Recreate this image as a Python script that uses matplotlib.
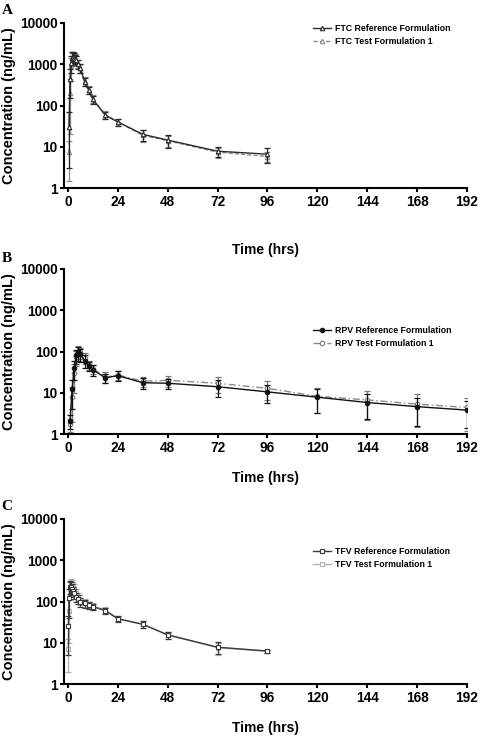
import numpy as np
import matplotlib
matplotlib.use("Agg")
import matplotlib.pyplot as plt
from matplotlib.ticker import FixedLocator, FixedFormatter, NullLocator

# ---------------- data ----------------
ftc_t = [0.5, 1, 1.5, 2, 2.5, 3, 3.5, 4, 5, 6, 8, 10, 12, 18, 24, 36, 48, 72, 96]
ftc_ref = [30, 450, 1100, 1450, 1500, 1450, 1350, 1250, 1000, 800, 380, 235, 140, 58, 40, 20, 14.5, 7.8, 6.6]
ftc_ref_sd = [40, 300, 500, 500, 450, 400, 350, 300, 250, 200, 90, 50, 30, 12, 8, 6, 5, 2.2, 2.5]
ftc_test = [7.5, 200, 900, 1400, 1550, 1500, 1400, 1300, 1050, 820, 390, 240, 145, 60, 40, 19, 14, 7.4, 5.8]
ftc_test_sd = [6, 250, 500, 500, 450, 400, 350, 300, 250, 200, 90, 50, 30, 12, 8, 6, 4, 2, 1.6]

rpv_t = [1, 2, 3, 4, 5, 6, 8, 10, 12, 18, 24, 36, 48, 72, 96, 120, 144, 168, 192]
rpv_ref = [2.1, 12, 40, 80, 95, 85, 60, 45, 36, 23, 26, 17.5, 17, 14, 10.5, 7.8, 5.8, 4.6, 3.8]
rpv_ref_sd = [0.8, 8, 20, 30, 35, 30, 20, 12, 10, 6, 7, 5, 5, 6, 5, 4.5, 3.5, 3, 2.4]
rpv_test = [1.7, 8, 30, 75, 100, 95, 70, 48, 38, 24, 27, 19, 20, 17, 12.8, 8.2, 6.7, 5.3, 4.4]
rpv_test_sd = [0.6, 6, 20, 30, 35, 30, 20, 12, 10, 7, 7, 5, 6, 7, 6, 5, 4.5, 3.8, 3.2]

tfv_t = [0.25, 0.5, 1, 1.5, 2, 2.5, 3, 4, 5, 6, 8, 10, 12, 18, 24, 36, 48, 72, 96]
tfv_ref = [25, 120, 230, 220, 200, 180, 160, 130, 115, 100, 90, 82, 75, 60, 38, 28, 15.5, 7.8, 6.3]
tfv_ref_sd = [20, 80, 80, 70, 60, 50, 45, 35, 30, 25, 20, 15, 12, 10, 6, 5, 3, 2.5, 0.5]
tfv_test = [7, 60, 200, 270, 260, 230, 200, 160, 130, 110, 95, 85, 78, 62, 39, 28, 15.5, 7.6, 6.2]
tfv_test_sd = [5, 50, 90, 90, 80, 70, 60, 45, 35, 30, 20, 15, 12, 10, 6, 5, 3, 2.5, 0.5]

x_ticks = [0, 24, 48, 72, 96, 120, 144, 168, 192]
y_ticks = [1, 10, 100, 1000, 10000]
y_ticklabels = ["1", "10", "100", "1000", "10000"]

# ---------------- figure ----------------
W, H = 483, 752
fig = plt.figure(figsize=(W / 100, H / 100), dpi=100)
sans = ["Liberation Sans", "DejaVu Sans"]
serif = ["Liberation Serif", "DejaVu Serif"]

panels = [
    dict(top=23, bot=188, xlab=250, letter="A", ly=10, leg_top=20,
         t=ftc_t, ref=ftc_ref, rsd=ftc_ref_sd, test=ftc_test, tsd=ftc_test_sd,
         rlab="FTC Reference Formulation", tlab="FTC Test Formulation 1",
         rstyle=dict(color="#2a2a2a", ls="-", marker="^", mfc="white", mec="#2a2a2a"),
         tstyle=dict(color="#8a8a8a", ls=(0, (3, 1.5)), marker="^", mfc="white", mec="#8a8a8a")),
    dict(top=269, bot=434, xlab=478, letter="B", ly=259, leg_top=322,
         t=rpv_t, ref=rpv_ref, rsd=rpv_ref_sd, test=rpv_test, tsd=rpv_test_sd,
         rlab="RPV Reference Formulation", tlab="RPV Test Formulation 1",
         rstyle=dict(color="#111111", ls="-", marker="o", mfc="#111111", mec="#111111"),
         tstyle=dict(color="#8a8a8a", ls=(0, (5, 2, 1, 2)), marker="o", mfc="white", mec="#7a7a7a")),
    dict(top=519, bot=684, xlab=728, letter="C", ly=507, leg_top=543,
         t=tfv_t, ref=tfv_ref, rsd=tfv_ref_sd, test=tfv_test, tsd=tfv_test_sd,
         rlab="TFV Reference Formulation", tlab="TFV Test Formulation 1",
         rstyle=dict(color="#3a3a3a", ls="-", marker="s", mfc="white", mec="#3a3a3a"),
         tstyle=dict(color="#b0b0b0", ls="-", marker="s", mfc="white", mec="#b0b0b0")),
]

left_px, right_px = 64, 467
for p in panels:
    ax = fig.add_axes([left_px / W, 1 - p["bot"] / H, (right_px - left_px) / W, (p["bot"] - p["top"]) / H])
    for vals, sd, st, lab, z in [(p["test"], p["tsd"], p["tstyle"], p["tlab"], 2),
                                 (p["ref"], p["rsd"], p["rstyle"], p["rlab"], 3)]:
        v = np.array(vals, float)
        s = np.array(sd, float)
        lo = np.minimum(s, v * 0.9)
        ax.errorbar(p["t"], v, yerr=[lo, s], color=st["color"], ecolor=st["mec"],
                    elinewidth=0.9, capsize=2.5, capthick=0.9, ls="none", zorder=z)
        ax.plot(p["t"], v, color=st["color"], ls=st["ls"], lw=1.0, marker=st["marker"],
                ms=3.2, mfc=st["mfc"], mec=st["mec"], mew=0.8, label=lab, zorder=z + 1)
    ax.set_yscale("log")
    ax.set_ylim(1, 10000)
    ax.set_xlim(-1.9, 192)
    ax.yaxis.set_major_locator(FixedLocator(y_ticks))
    ax.yaxis.set_major_formatter(FixedFormatter(y_ticklabels))
    ax.yaxis.set_minor_locator(NullLocator())
    ax.set_xticks(x_ticks)
    ax.set_xticklabels([str(x) for x in x_ticks])
    for side in ["top", "right"]:
        ax.spines[side].set_visible(False)
    for side in ["left", "bottom"]:
        ax.spines[side].set_linewidth(1.5)
    ax.tick_params(axis="both", which="major", direction="out", length=3.2, width=1.5,
                   labelsize=9.8, pad=1.5)
    for lbl in ax.get_xticklabels() + ax.get_yticklabels():
        lbl.set_fontfamily(sans)
        lbl.set_fontweight("bold")
    h, l = ax.get_legend_handles_labels()
    order = [l.index(p["rlab"]), l.index(p["tlab"])]
    ax.legend([h[i] for i in order], [l[i] for i in order],
              loc="upper left", bbox_to_anchor=(309 / W, 1 - p["leg_top"] / H),
              bbox_transform=fig.transFigure, frameon=False, borderpad=0,
              handlelength=2.0, handletextpad=0.5, labelspacing=0.45,
              prop=dict(family=sans, weight="bold", size=6.3))
    fig.text((left_px + right_px) / 2 / W, 1 - p["xlab"] / H, "Time (hrs)",
             ha="center", va="center", fontsize=10, fontweight="bold", family=sans)
    fig.text(9 / W, 1 - (p["top"] + p["bot"]) / 2 / H, "Concentration (ng/mL)",
             rotation=90, ha="center", va="center", fontsize=10.5, fontweight="bold", family=sans)
    fig.text(7 / W, 1 - p["ly"] / H, p["letter"], ha="center", va="center",
             fontsize=11, fontweight="bold", family=serif)

fig.savefig("out.png", dpi=100)
